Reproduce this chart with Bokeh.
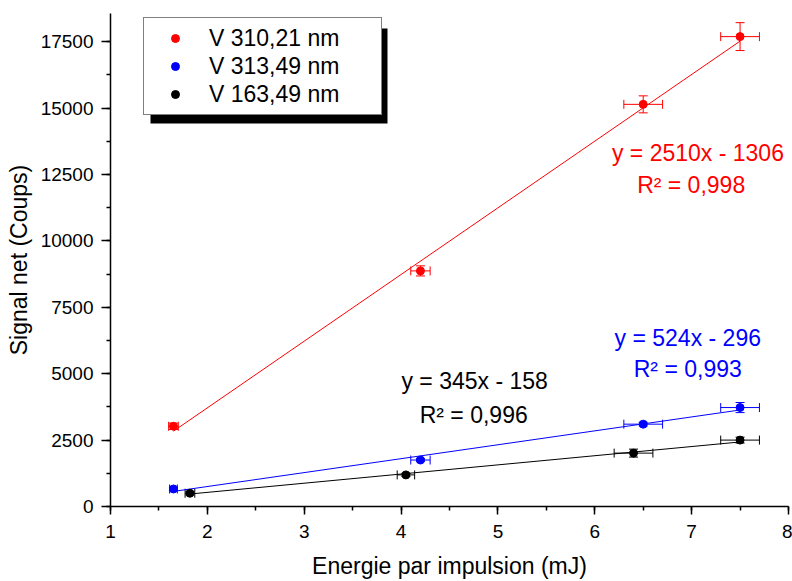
import numpy as np
from bokeh.plotting import figure
from bokeh.models import (ColumnDataSource, Whisker, Range1d, SingleIntervalTicker,
                          Legend, LegendItem, Label, BoxAnnotation, TeeHead)
from bokeh.embed import file_html
from bokeh.resources import INLINE

# ---------------- data ----------------
series_names = ["V 310,21 nm", "V 313,49 nm", "V 163,49 nm"]
series_colors = ["#ff0000", "#0000ff", "#000000"]

red_x = [1.65, 4.2, 6.5, 7.5]
red_y = [3020, 8870, 15140, 17690]
red_xerr = [0.05, 0.1, 0.2, 0.2]
red_yerr = [120, 190, 320, 525]

blue_x = [1.65, 4.2, 6.5, 7.5]
blue_y = [660, 1750, 3100, 3725]
blue_xerr = [0.04, 0.1, 0.2, 0.2]
blue_yerr = [60, 60, 70, 190]

black_x = [1.82, 4.05, 6.4, 7.5]
black_y = [500, 1190, 2010, 2500]
black_xerr = [0.05, 0.09, 0.2, 0.2]
black_yerr = [60, 60, 150, 110]

fit_slopes = [2510, 524, 345]
fit_intercepts = [-1306, -296, -158]
fit_r2 = ["0,998", "0,993", "0,996"]

x_ticks_interval = 1
y_ticks_interval = 2500

FONT = "Liberation Sans"

# ---------------- figure ----------------
p = figure(width=792, height=581, x_range=Range1d(1, 8), y_range=Range1d(0, 18560),
           output_backend="svg", toolbar_location=None,
           min_border_left=110, min_border_right=4, min_border_top=13, min_border_bottom=73)
p.outline_line_color = None
p.xgrid.visible = False
p.ygrid.visible = False
p.background_fill_color = "white"
p.border_fill_color = "white"

p.xaxis.ticker = SingleIntervalTicker(interval=x_ticks_interval, num_minor_ticks=2)
p.yaxis.ticker = SingleIntervalTicker(interval=y_ticks_interval, num_minor_ticks=2)
p.xaxis.axis_label = "Energie par impulsion (mJ)"
p.yaxis.axis_label = "Signal net (Coups)"

for ax in (p.xaxis, p.yaxis):
    ax.axis_line_color = "black"
    ax.axis_line_width = 1.5
    ax.major_tick_line_color = "black"
    ax.major_tick_line_width = 1.5
    ax.minor_tick_line_color = "black"
    ax.minor_tick_line_width = 1.5
    ax.major_tick_in = 0
    ax.minor_tick_in = 0
    ax.minor_tick_out = 4
    ax.major_label_text_font = FONT
    ax.major_label_text_font_size = "19px"
    ax.major_label_text_color = "black"
    ax.axis_label_text_font = FONT
    ax.axis_label_text_font_size = "23px"
    ax.axis_label_text_font_style = "normal"
    ax.axis_label_text_color = "black"

p.xaxis.major_tick_out = 8
p.xaxis.major_label_standoff = 10
p.xaxis.axis_label_standoff = 12
p.yaxis.major_tick_out = 9
p.yaxis.major_label_standoff = 8
p.yaxis.axis_label_standoff = 6

series = [
    (red_x, red_y, red_xerr, red_yerr),
    (blue_x, blue_y, blue_xerr, blue_yerr),
    (black_x, black_y, black_xerr, black_yerr),
]

renderers = []
for (xs, ys, xe, ye), color, slope, icpt in zip(series, series_colors, fit_slopes, fit_intercepts):
    xs = np.array(xs, dtype=float)
    ys = np.array(ys, dtype=float)
    xe = np.array(xe, dtype=float)
    ye = np.array(ye, dtype=float)
    src = ColumnDataSource(dict(x=xs, y=ys,
                                xl=xs - xe, xu=xs + xe,
                                yl=ys - ye, yu=ys + ye))
    # fit line
    fx = np.array([xs.min(), xs.max()])
    p.line(fx, slope * fx + icpt, line_color=color, line_width=1)
    # error bars
    p.add_layout(Whisker(source=src, base="x", lower="yl", upper="yu", dimension="height",
                         line_color=color, line_width=1,
                         upper_head=TeeHead(size=9, line_color=color, line_width=1),
                         lower_head=TeeHead(size=9, line_color=color, line_width=1)))
    p.add_layout(Whisker(source=src, base="y", lower="xl", upper="xu", dimension="width",
                         line_color=color, line_width=1,
                         upper_head=TeeHead(size=9, line_color=color, line_width=1),
                         lower_head=TeeHead(size=9, line_color=color, line_width=1)))
    r = p.scatter("x", "y", source=src, size=8, marker="circle",
                  fill_color=color, line_color=color)
    renderers.append(r)

# equations
label_pos = [
    ((7.065, 13300), (6.995, 12100)),
    ((6.96, 6330), (6.96, 5160)),
    ((4.76, 4710), (4.75, 3440)),
]
for (eq_pos, r2_pos), color, slope, icpt, r2 in zip(label_pos, series_colors, fit_slopes,
                                                     fit_intercepts, fit_r2):
    sign = "-" if icpt < 0 else "+"
    eq = f"y = {slope}x {sign} {abs(icpt)}"
    for (lx, ly), txt in ((eq_pos, eq), (r2_pos, f"R\u00b2 = {r2}")):
        p.add_layout(Label(x=lx, y=ly, text=txt, text_align="center",
                           text_baseline="alphabetic", text_color=color,
                           text_font=FONT, text_font_size="23px"))

# legend shadow + legend
p.add_layout(BoxAnnotation(left=150, right=387, top=28, bottom=123,
                           left_units="canvas", right_units="canvas",
                           top_units="canvas", bottom_units="canvas",
                           fill_color="black", fill_alpha=1, line_color=None))
legend = Legend(items=[LegendItem(label=n, renderers=[r]) for n, r in zip(series_names, renderers)],
                location=(33, 391), margin=0, padding=6, spacing=0,
                glyph_width=50, glyph_height=20, label_height=28, label_width=166,
                label_standoff=9, label_text_font=FONT, label_text_font_size="23px",
                label_text_color="black", border_line_color="black", border_line_width=1,
                background_fill_color="white", background_fill_alpha=1)
p.add_layout(legend)

open("out.html", "w").write(file_html(p, INLINE))
